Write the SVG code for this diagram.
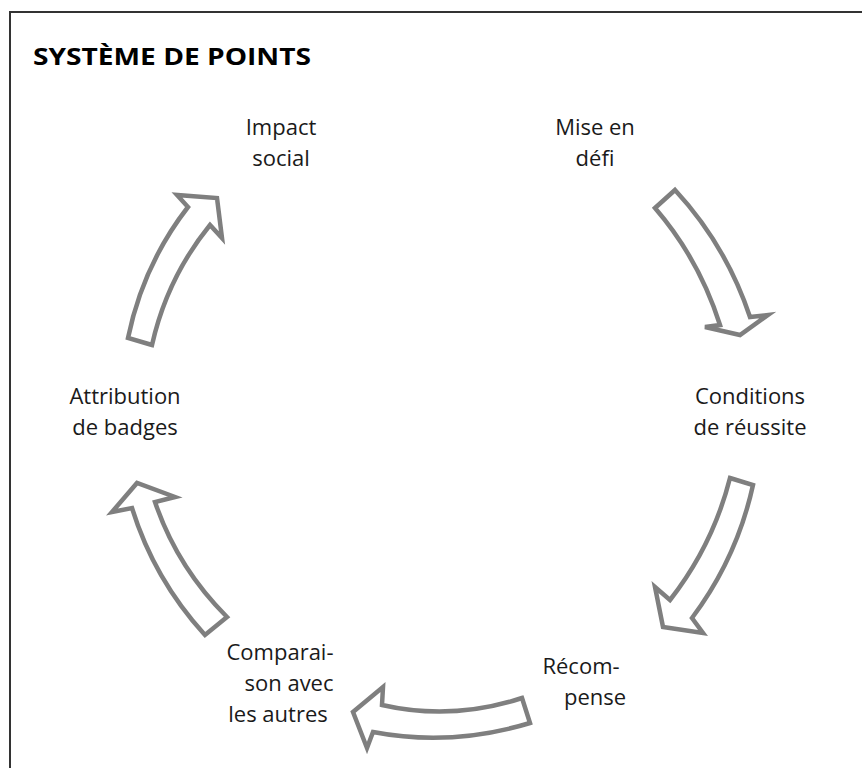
<svg xmlns="http://www.w3.org/2000/svg" width="862" height="768" viewBox="0 0 862 768">
<style>
.lbl{font-family:"Open Sans","Liberation Sans",sans-serif;font-size:22px;fill:#1a1a1a;text-anchor:middle}
.ttl{font-family:"Open Sans","Liberation Sans",sans-serif;font-size:23px;font-weight:bold;fill:#000}
.arr{fill:#fff;stroke:#7f7f7f;stroke-width:4.5;stroke-linejoin:miter}
</style>
<rect x="10" y="12" width="880" height="800" fill="#fff" stroke="#333" stroke-width="2"/>
<text class="ttl" x="33" y="65" textLength="278" lengthAdjust="spacingAndGlyphs">SYSTÈME DE POINTS</text>
<g id="n-impact"><text class="lbl" x="281" y="135">Impact</text><text class="lbl" x="281" y="166">social</text></g>
<g id="n-defi"><text class="lbl" x="595" y="135">Mise en</text><text class="lbl" x="595" y="166">défi</text></g>
<g id="n-conditions"><text class="lbl" x="750" y="404">Conditions</text><text class="lbl" x="750" y="435">de réussite</text></g>
<g id="n-recompense"><text class="lbl" x="581" y="674">Récom-</text><text class="lbl" x="595" y="705">pense</text></g>
<g id="n-comparaison"><text class="lbl" x="280" y="660">Comparai-</text><text class="lbl" x="289" y="691">son avec</text><text class="lbl" x="278" y="722">les autres</text></g>
<g id="n-attribution"><text class="lbl" x="125" y="404">Attribution</text><text class="lbl" x="125" y="435">de badges</text></g>
<g id="connectors">
<path class="arr" d="M655,208 L675,190 Q726,245 750,317 L768,315 L740,335 L705,327 L720,325 Q699,259 655,208 Z"/>
<path class="arr" d="M730,478 L753,485 Q737,558 692,618 L703,633 L663,627 L655,587 L670,600 Q713,545 730,478 Z"/>
<path class="arr" d="M522,698 L530,723 Q451,747 373,732 L367,748 L353,712 L383,687 L382,705 Q452,721 522,698 Z"/>
<path class="arr" d="M227,617 L205,635 Q154,579 132,508 L112,512 L137,483 L175,497 L155,502 Q177,567 227,617 Z"/>
<path class="arr" d="M152,345 L128,338 Q143,265 188,207 L177,195 L217,198 L222,238 L210,225 Q167,278 152,345 Z"/>
</g>
</svg>
